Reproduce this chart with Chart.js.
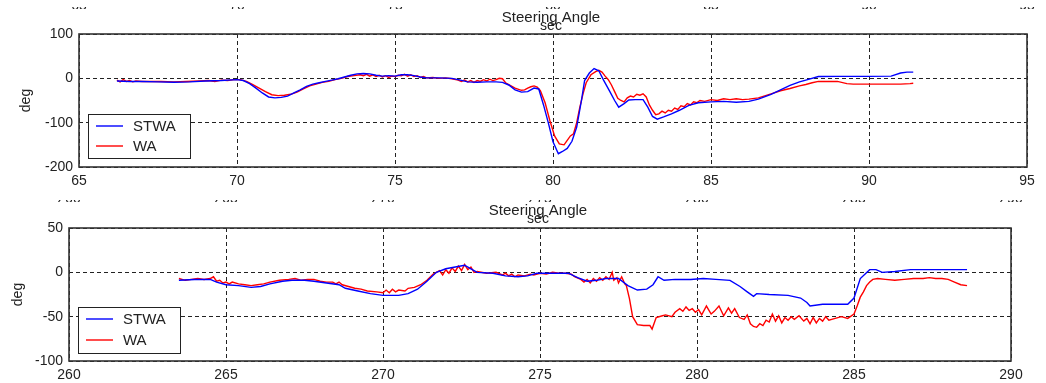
<!DOCTYPE html>
<html>
<head>
<meta charset="utf-8">
<script src="https://cdn.jsdelivr.net/npm/chart.js@4.4.1/dist/chart.umd.min.js"></script>
<style>
  html, body { margin: 0; padding: 0; background: #fff; }
  #wrap { position: relative; width: 1046px; height: 383px; overflow: hidden; background: #fff; }
  canvas { position: absolute; left: 0; }
  #topChart { top: 0; }
  #bottomChart { top: 190px; }
</style>
</head>
<body>
<div id="wrap">
  <canvas id="topChart" width="1046" height="190"></canvas>
  <canvas id="bottomChart" width="1046" height="193"></canvas>
</div>
<script>
// ---- first run (65 s .. 95 s) ----
const topXTicks = [65, 70, 75, 80, 85, 90, 95];
const topYTicks = [-200, -100, 0, 100];

const topStwaTime = [66.2, 66.6, 67.0, 67.5, 68.0, 68.5, 69.0, 69.5, 70.0, 70.2, 70.4, 70.6, 70.8, 71.0, 71.2, 71.4, 71.6, 71.8,
  72.0, 72.2, 72.4, 72.6, 72.8, 73.0, 73.2, 73.4, 73.6, 73.8, 74.0, 74.2, 74.4, 74.6, 74.8, 75.0, 75.2, 75.4, 75.6, 75.8,
  76.0, 76.4, 76.8, 77.0, 77.3, 77.6, 77.9, 78.2, 78.4, 78.6, 78.8, 79.0, 79.2, 79.4, 79.55, 79.7, 79.85, 80.0, 80.17,
  80.3, 80.45, 80.6, 80.75, 80.9, 81.0, 81.15, 81.3, 81.45, 81.6, 81.8, 81.95, 82.08, 82.25, 82.4, 82.6, 82.85, 83.0,
  83.15, 83.3, 83.5, 83.75, 84.0, 84.3, 84.6, 85.0, 85.4, 85.8, 86.2, 86.5, 86.9, 87.2, 87.5, 87.8, 88.0, 88.4, 89.0,
  89.5, 90.0, 90.7, 91.0, 91.2, 91.4];
const topStwaDeg = [-6, -7, -7, -8, -9, -8, -6, -5, -3, -5, -12, -22, -33, -42, -44, -43, -40, -33,
  -26, -18, -13, -10, -7, -4, -1, 3, 7, 10, 11, 10, 7, 5, 6, 5, 8, 8, 6, 3,
  1, 1, 0, -3, -8, -9, -8, -8, -9, -15, -26, -31, -30, -22, -24, -60, -100, -143, -170,
  -165, -158, -142, -110, -50, -5, 12, 22, 17, -4, -30, -50, -65, -57, -49, -48, -48, -65,
  -86, -92, -87, -80, -72, -61, -55, -53, -52, -54, -52, -47, -36, -26, -16, -8, -4, 4, 4.5,
  4.5, 4.5, 5, 12, 14, 14];

const topWaTime = [66.2, 66.3, 66.4, 66.5, 66.6, 66.7, 66.8, 67.0, 67.3, 67.6, 68.0, 68.4, 68.8, 69.1, 69.3, 69.5, 69.7, 69.9,
  70.1, 70.3, 70.5, 70.7, 70.9, 71.1, 71.3, 71.5, 71.7, 71.9, 72.1, 72.3, 72.5, 72.7, 72.9, 73.1, 73.3, 73.5, 73.7, 73.9,
  74.0, 74.1, 74.2, 74.3, 74.4, 74.5, 74.6, 74.7, 74.8, 74.9, 75.0, 75.1, 75.2, 75.3, 75.4, 75.5, 75.6, 75.7, 75.8, 75.9,
  76.0, 76.2, 76.4, 76.6, 76.8, 77.0, 77.1, 77.2, 77.3, 77.4, 77.5, 77.6, 77.7, 77.8, 77.9, 78.0, 78.1, 78.2, 78.3, 78.4,
  78.5, 78.6, 78.8, 79.0, 79.1, 79.2, 79.3, 79.4, 79.5, 79.6, 79.75, 79.9, 80.05, 80.2, 80.35, 80.45, 80.55, 80.65, 80.75,
  80.85, 80.95, 81.05, 81.2, 81.35, 81.45, 81.55, 81.65, 81.75, 81.85, 81.95, 82.05, 82.15, 82.25, 82.35, 82.45, 82.55,
  82.65, 82.75, 82.85, 82.95, 83.05, 83.15, 83.25, 83.35, 83.45, 83.55, 83.65, 83.75, 83.85, 83.95, 84.05, 84.15, 84.25,
  84.35, 84.45, 84.55, 84.65, 84.8, 85.0, 85.2, 85.4, 85.6, 85.8, 86.0, 86.2, 86.5, 86.9, 87.2, 87.5, 87.8, 88.0, 88.2,
  88.4, 89.0, 89.3, 89.5, 90.0, 90.5, 91.0, 91.3, 91.4];
const topWaDeg = [-4, -8, -3, -7, -5, -8, -6, -7, -7, -7, -8, -7, -6, -5, -7, -4, -5, -3,
  -3, -7, -14, -22, -30, -37, -39, -38, -36, -31, -24, -17, -13, -9, -7, -3, 0, 4, 6, 8,
  6, 9, 5, 8, 4, 7, 3, 6, 2, 5, 4, 7, 6, 9, 5, 8, 4, 6, 2, 4,
  1, 2, 0, 1, -1, -4, -7, -4, -8, -5, -9, -5, -7, -3, -6, -2, -5, -3, 0, -1,
  -10, -14, -22, -27, -26, -22, -19, -17, -20, -28, -55, -95, -130, -148, -150, -140, -130, -125, -100,
  -65, -35, -10, 8, 15, 18, 14, 5, -3, -15, -30, -45, -50, -53, -44, -40, -42,
  -36, -38, -35, -42, -60, -72, -82, -80, -74, -78, -72, -74, -67, -70, -62, -64, -57,
  -60, -53, -55, -50, -52, -48, -50, -46, -48, -46, -48, -47, -44, -35, -28, -23, -17, -14, -10,
  -7, -7, -12, -13, -13, -13, -13, -12, -11];

// ---- second run (260 s .. 290 s) ----
const bottomXTicks = [260, 265, 270, 275, 280, 285, 290];
const bottomYTicks = [-100, -50, 0, 50];

const bottomStwaTime = [263.5, 264.0, 264.5, 264.7, 265.0, 265.4, 265.8, 266.1, 266.4, 266.8, 267.1, 267.5, 267.8, 268.2,
  268.6, 268.8, 269.2, 269.6, 270.0, 270.5, 270.8, 271.1, 271.4, 271.7, 272.0, 272.3, 272.6, 272.8, 273.0, 273.5, 273.9,
  274.3, 274.6, 274.9, 275.4, 275.9, 276.2, 276.5, 276.8, 277.1, 277.5, 277.8, 278.1, 278.4, 278.6, 278.76, 278.95,
  279.3, 279.8, 280.2, 280.6, 281.05, 281.37, 281.6, 281.8, 281.9, 282.3, 282.9, 283.3, 283.5, 283.6, 284.0, 284.8,
  285.0, 285.2, 285.5, 285.7, 285.9, 286.3, 286.8, 287.5, 288.6];
const bottomStwaDeg = [-9, -8, -8, -11, -14, -15, -17, -16, -13, -10, -9, -9, -10, -12,
  -14, -18, -21, -24, -26, -26, -24, -19, -10, 0, 4, 6, 8, 4, 0, -1, -4,
  -5, -4, -1, -1, -1, -6, -10, -9, -7, -7, -15, -20, -19, -14, -5, -9,
  -8, -8, -7, -8, -9, -16, -22, -27, -24, -25, -26, -29, -34, -38, -36, -36,
  -29, -7, 3, 3, 0, 1, 3, 3, 3];

const bottomWaTime = [263.5, 263.7, 263.9, 264.1, 264.3, 264.5, 264.6, 264.7, 264.8, 264.9, 265.0, 265.1, 265.2, 265.4,
  265.6, 265.8, 266.0, 266.2, 266.4, 266.7, 267.0, 267.2, 267.4, 267.6, 267.8, 268.0, 268.2, 268.4, 268.5, 268.6, 268.7,
  268.9, 269.1, 269.3, 269.5, 269.8, 270.0, 270.1, 270.2, 270.3, 270.4, 270.5, 270.7, 270.8, 271.0, 271.2, 271.4, 271.6,
  271.8, 271.9, 272.0, 272.1, 272.2, 272.3, 272.4, 272.5, 272.6, 272.7, 272.8, 272.9, 273.0, 273.3, 273.6, 273.8, 273.9,
  274.0, 274.1, 274.2, 274.3, 274.5, 274.7, 274.8, 275.0, 275.2, 275.4, 275.6, 275.8, 276.0, 276.1, 276.3, 276.4, 276.5,
  276.6, 276.7, 276.8, 276.9, 277.0, 277.1, 277.2, 277.3, 277.35, 277.45, 277.5, 277.6, 277.7, 277.75, 277.85, 277.95,
  278.1, 278.3, 278.5, 278.57, 278.7, 278.9, 279.0, 279.2, 279.3, 279.45, 279.55, 279.65, 279.75, 279.85, 279.95,
  280.05, 280.15, 280.3, 280.45, 280.55, 280.7, 280.85, 281.0, 281.1, 281.2, 281.35, 281.5, 281.6, 281.7, 281.8, 281.9,
  282.0, 282.1, 282.2, 282.3, 282.4, 282.5, 282.6, 282.7, 282.8, 282.9, 283.0, 283.1, 283.25, 283.4, 283.5, 283.6, 283.7,
  283.8, 283.9, 284.0, 284.1, 284.2, 284.4, 284.6, 284.8, 285.0, 285.1, 285.2, 285.3, 285.4, 285.5, 285.6, 285.75, 286.0,
  286.3, 286.6, 286.9, 287.2, 287.4, 287.6, 287.8, 288.0, 288.2, 288.4, 288.6];
const bottomWaDeg = [-7, -9, -8, -7, -8, -7, -5, -10, -9, -12, -11, -13, -11, -13,
  -14, -15, -14, -13, -11, -9, -8, -7, -9, -8, -8, -10, -11, -11, -13, -11, -14,
  -16, -18, -19, -21, -22, -23, -20, -23, -19, -22, -20, -21, -18, -17, -14, -9, -2,
  2, -3, 3, -1, 5, 1, 7, 2, 9, 3, 6, 0, 1, -1, 0, -3, -1,
  -4, -2, -5, -3, -4, -2, -3, -1, -2, 0, -1, -1, -2, -5, -8, -11, -8,
  -12, -7, -10, -6, -9, -5, -8, 0, -9, -6, -12, -5, -13, -15, -30, -50,
  -59, -60, -60, -64, -51, -49, -48, -50, -45, -41, -44, -39, -43, -41, -45,
  -42, -48, -38, -47, -44, -38, -49, -40, -46, -41, -51, -53, -48, -58, -61, -62,
  -58, -60, -54, -56, -47, -55, -49, -57, -51, -54, -50, -53, -49, -55, -52, -58, -51,
  -57, -52, -55, -50, -54, -52, -50, -52, -47, -38, -28, -22, -15, -11, -8, -7, -8,
  -9, -8, -7, -7, -6, -7, -7, -8, -11, -14, -15];

const seriesNames = ['STWA', 'WA'];
const seriesColors = ['#0000ff', '#ff0000'];
const plotTitle = 'Steering Angle';
const xUnit = 'sec';
const yUnit = 'deg';

const FONT = '"Liberation Sans", Arial, sans-serif';
const INK = '#222';

function toPoints(times, values) {
  return times.map((t, i) => ({ x: t, y: values[i] }));
}

// frame, title, axis unit, faint clipped tick-label strip, and the in-plot legend
function decorations(layout) {
  return {
    id: 'decorations',
    afterDraw(chart) {
      const ctx = chart.ctx;
      const a = chart.chartArea;
      ctx.save();

      // clipped strip of tick labels along the top edge (only their lower edge shows)
      ctx.save();
      ctx.beginPath();
      ctx.rect(0, layout.stripTop, chart.width, layout.stripHeight);
      ctx.clip();
      ctx.fillStyle = INK;
      ctx.font = '14px ' + FONT;
      ctx.textAlign = 'center';
      ctx.textBaseline = 'alphabetic';
      chart.scales.x.ticks.forEach(t => {
        ctx.fillText(String(t.value), chart.scales.x.getPixelForValue(t.value), layout.stripBaseline);
      });
      ctx.restore();

      // plot frame
      ctx.strokeStyle = '#333';
      ctx.lineWidth = 1.6;
      ctx.strokeRect(a.left, a.top, a.right - a.left, a.bottom - a.top);

      // title and unit text
      ctx.fillStyle = INK;
      ctx.font = '15px ' + FONT;
      ctx.textAlign = 'center';
      ctx.textBaseline = 'alphabetic';
      ctx.fillText(plotTitle, layout.titleX, layout.titleBaseline);
      ctx.font = '14px ' + FONT;
      ctx.fillText(xUnit, layout.unitX, layout.unitBaseline);

      ctx.save();
      ctx.translate(layout.degX, (a.top + a.bottom) / 2);
      ctx.rotate(-Math.PI / 2);
      ctx.textBaseline = 'middle';
      ctx.fillText(yUnit, 0, 0);
      ctx.restore();

      // legend box
      const lx = a.left + 9, lw = 102, lh = layout.legendH;
      const ly = a.bottom - layout.legendBottom - lh;
      ctx.fillStyle = '#fff';
      ctx.fillRect(lx, ly, lw, lh);
      ctx.strokeStyle = '#222';
      ctx.lineWidth = 1;
      ctx.strokeRect(lx + 0.5, ly + 0.5, lw, lh);
      ctx.font = '15px ' + FONT;
      ctx.textAlign = 'left';
      ctx.textBaseline = 'middle';
      chart.data.datasets.forEach((ds, i) => {
        const yy = ly + 12 + i * layout.legendGap;
        ctx.strokeStyle = ds.borderColor;
        ctx.lineWidth = 1.4;
        ctx.beginPath();
        ctx.moveTo(lx + 8, yy);
        ctx.lineTo(lx + 35, yy);
        ctx.stroke();
        ctx.fillStyle = INK;
        ctx.fillText(ds.label, lx + 45, yy + 1);
      });
      ctx.restore();
    }
  };
}

function makeChart(id, cfg) {
  const axisCommon = {
    type: 'linear',
    grid: { color: '#222', lineWidth: 1, drawTicks: false },
    border: { display: false, dash: [4, 3] },
    ticks: { color: INK, font: { family: FONT, size: 14 }, autoSkip: false, maxRotation: 0 }
  };
  return new Chart(document.getElementById(id), {
    type: 'line',
    data: {
      datasets: [
        { label: seriesNames[0], data: toPoints(cfg.stwaTime, cfg.stwaDeg), borderColor: seriesColors[0] },
        { label: seriesNames[1], data: toPoints(cfg.waTime, cfg.waDeg), borderColor: seriesColors[1] }
      ].map(d => Object.assign(d, { borderWidth: 1.4, pointRadius: 0, tension: 0, fill: false }))
    },
    options: {
      responsive: false,
      animation: false,
      devicePixelRatio: 1,
      events: [],
      layout: { padding: { left: 0, right: cfg.padRight, top: cfg.padTop, bottom: 0 } },
      plugins: { legend: { display: false }, tooltip: { enabled: false }, title: { display: false } },
      scales: {
        x: Object.assign({}, axisCommon, {
          min: cfg.xTicks[0], max: cfg.xTicks[cfg.xTicks.length - 1],
          ticks: Object.assign({}, axisCommon.ticks, { padding: 6 }),
          afterBuildTicks: s => { s.ticks = cfg.xTicks.map(v => ({ value: v })); },
          afterFit: s => { s.height = cfg.xAxisH; }
        }),
        y: Object.assign({}, axisCommon, {
          min: cfg.yTicks[0], max: cfg.yTicks[cfg.yTicks.length - 1],
          ticks: Object.assign({}, axisCommon.ticks, { padding: 6 }),
          afterBuildTicks: s => { s.ticks = cfg.yTicks.map(v => ({ value: v })); },
          afterFit: s => { s.width = cfg.yAxisW; }
        })
      }
    },
    plugins: [decorations(cfg.layout)]
  });
}

makeChart('topChart', {
  stwaTime: topStwaTime, stwaDeg: topStwaDeg, waTime: topWaTime, waDeg: topWaDeg,
  xTicks: topXTicks, yTicks: topYTicks,
  yAxisW: 79, xAxisH: 23, padTop: 34, padRight: 19,
  layout: { titleX: 551, titleBaseline: 22, unitX: 551, unitBaseline: 30, degX: 26,
            stripTop: 7, stripHeight: 2, stripBaseline: 10,
            legendH: 44, legendBottom: 9, legendGap: 20 }
});

makeChart('bottomChart', {
  stwaTime: bottomStwaTime, stwaDeg: bottomStwaDeg, waTime: bottomWaTime, waDeg: bottomWaDeg,
  xTicks: bottomXTicks, yTicks: bottomYTicks,
  yAxisW: 69, xAxisH: 22, padTop: 38, padRight: 35,
  layout: { titleX: 538, titleBaseline: 25, unitX: 538, unitBaseline: 33, degX: 18,
            stripTop: 10, stripHeight: 2, stripBaseline: 13,
            legendH: 46, legendBottom: 8, legendGap: 21 }
});
</script>
</body>
</html>
